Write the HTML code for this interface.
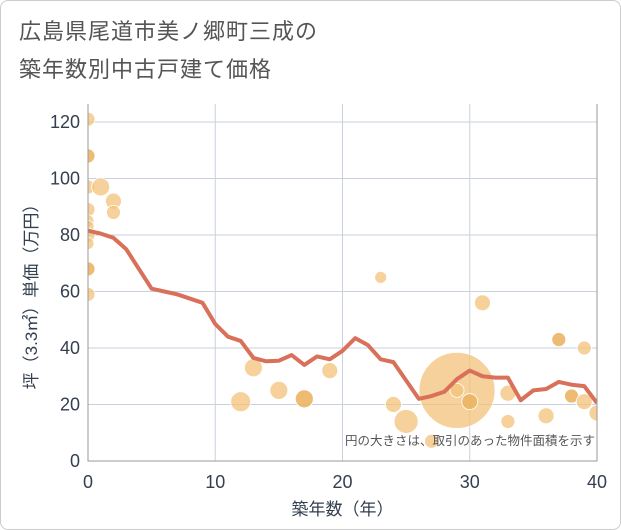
<!DOCTYPE html>
<html><head><meta charset="utf-8"><style>
body{margin:0;background:#fff;font-family:"Liberation Sans","Noto Sans CJK JP",sans-serif;}
#wrap{position:relative;width:619px;height:528px;border:1px solid #ccc;border-radius:8px;overflow:hidden;}
.t{position:absolute;left:18px;font-size:22px;color:#555;letter-spacing:1px;}
</style></head><body>
<div id="wrap">
<div class="t" style="top:13px">広島県尾道市美ノ郷町三成の</div>
<div class="t" style="top:51px">築年数別中古戸建て価格</div>
<svg id="c" width="621" height="530" style="position:absolute;left:0;top:0"></svg>
</div>
<script>
const lineYears=[0,1,2,3,4,5,6,7,8,9,10,11,12,13,14,15,16,17,18,19,20,21,22,23,24,25,26,27,28,29,30,31,32,33,34,35,36,37,38,39,40];
const lineValues=[81.5,80.5,79,75,68,61,60,59,57.5,56,48.5,44,42.5,36.5,35.3,35.5,37.5,34,37,36,39,43.5,41,36,35,28.5,22,23,24.5,29,32,30,29.5,29.5,21.5,25,25.5,28,27,26.5,20.5];
const bubbleX=[0,0,0,0,0,0,0,0,0,0,1,2,2,12,13,15,17,19,23,24,25,29,29,30,31,33,33,36,37,38,39,39,40,27];
const bubbleY=[121,108,97,89,85,83,80,77,68,59,97,92,88,21,33,25,22,32,65,20,14,25,25,21,56,24,14,16,43,23,40,21,17,7];
const bubbleR=[7,7,7,7,6,6,7,6,7,7,9,8,7,10,9,9,9,8,6,8,12,38,7,8,8,8,7,8,7,7,7,8,8,7];
const bubbleDark=[0,1,0,0,0,0,0,0,1,0,0,0,0,0,0,0,1,0,0,0,0,0,0,1,0,0,0,0,1,1,0,0,0,0];
const xTicks=[0,10,20,30,40];
const yTicks=[0,20,40,60,80,100,120];
const L=87,R=596,T=103,B=460;
const xs=v=>L+(v/40)*(R-L);
const ys=v=>B-(v/120)*(B-121);
const svg=document.getElementById('c');const NS='http://www.w3.org/2000/svg';
function mk(tag,attrs,parent){const e=document.createElementNS(NS,tag);for(const k in attrs)e.setAttribute(k,attrs[k]);(parent||svg).appendChild(e);return e;}
const defs=mk('defs',{});const cp=mk('clipPath',{id:'pc'},defs);mk('rect',{x:L,y:T,width:R-L,height:B-T},cp);
xTicks.forEach(t=>{const g=mk('line',{x1:xs(t),x2:xs(t),y1:T,y2:B,stroke:'#c8d2dc','stroke-width':1});

const tx=mk('text',{x:xs(t),y:B+27,'text-anchor':'middle','font-size':18,fill:'#333f50'});tx.textContent=t;
});
yTicks.forEach(t=>{const g=mk('line',{x1:L,x2:R,y1:ys(t),y2:ys(t),stroke:'#c8d2dc','stroke-width':1});

const tx=mk('text',{x:L-8,y:ys(t)+6,'text-anchor':'end','font-size':18,fill:'#333f50'});tx.textContent=t;
});
const pg=mk('g',{'clip-path':'url(#pc)'});

bubbleX.forEach((x,i)=>{const c=mk('circle',{cx:xs(x),cy:ys(bubbleY[i]),r:bubbleR[i],fill:bubbleDark[i]?'#ebb462':'#f3c27a','fill-opacity':bubbleDark[i]?0.9:0.75,stroke:'#fff','stroke-width':0.8},pg);
});
const pl=mk('polyline',{points:lineYears.map((y,i)=>xs(y)+','+ys(lineValues[i])).join(' '),fill:'none',stroke:'#d9705a','stroke-width':4,'stroke-linejoin':'round'},pg);

const ax=mk('path',{d:`M${L},${T}V${B}H${R}V${T}`,fill:'none',stroke:'#999','stroke-width':1});

const note=mk('text',{x:594,y:444,'text-anchor':'end','font-size':12.5,fill:'#555'});note.textContent='円の大きさは、取引のあった物件面積を示す';

const xt=mk('text',{x:(L+R)/2,y:514,'text-anchor':'middle','font-size':17,fill:'#333f50'});xt.textContent='築年数（年）';

const yt=mk('text',{x:0,y:0,'text-anchor':'middle','font-size':17,fill:'#333f50',transform:`translate(36,${(T+B)/2+10}) rotate(-90)`});yt.textContent='坪（3.3㎡）単価（万円）';

</script>
</body></html>
